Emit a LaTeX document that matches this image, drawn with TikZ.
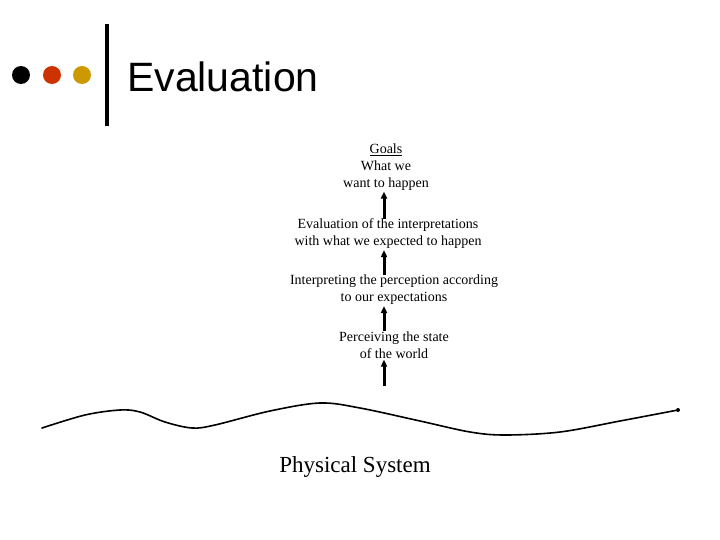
\documentclass[tikz,border=0pt]{standalone}
\usepackage{fontspec}
\setmainfont{Liberation Serif}
\newfontfamily\titlefont{Liberation Sans}
\usetikzlibrary{arrows.meta}
\definecolor{dotred}{HTML}{CC3300}
\definecolor{dotgold}{HTML}{CC9900}
\begin{document}
\begin{tikzpicture}[x=1pt,y=-1pt,
  lbl/.style={align=center,inner sep=1pt,font=\fontsize{14}{17}\selectfont},
  arr/.style={line width=3pt,-{Triangle[length=7pt,width=6pt]}}]
\useasboundingbox (0,0) rectangle (720,540);
% header
\fill[black] (21,75) circle (9);
\fill[dotred] (52,75) circle (9);
\fill[dotgold] (82,75) circle (9);
\draw[line width=4pt] (107,24) -- (107,126);
\node[anchor=base west,inner sep=0,font=\titlefont\fontsize{41}{46}\selectfont] (title) at (127,92) {Evaluation};
% stages
\node[lbl] (goals) at (386,167) {\underline{Goals}\\What we\\want to happen};
\node[lbl] (evalu) at (388,234) {Evaluation of the interpretations\\with what we expected to happen};
\node[lbl] (interp) at (394,290) {Interpreting the perception according\\to our expectations};
\node[lbl] (perc) at (394,345) {Perceiving the state\\of the world};
\coordinate (ax) at (384,0);
\coordinate (base) at (384,386);
\draw[arr] (evalu.north -| ax) ++(0,1) -- (goals.south -| ax);
\draw[arr] (interp.north -| ax) ++(0,1) -- (evalu.south -| ax);
\draw[arr] (perc.north -| ax) ++(0,1) -- (interp.south -| ax);
\draw[arr] (base) -- (perc.south -| ax);
% physical system
\draw[line width=1.6pt,line cap=round] plot[smooth,tension=0.55] coordinates
 {(42,428) (85,415) (120,410) (140,412) (165,422) (192,428) (215,425) (270,411) (320,403) (360,408) (420,421) (470,432) (505,435) (560,432) (620,421) (678,410)};
\fill (678,410) circle (2);
\node[inner sep=0,font=\fontsize{23}{26}\selectfont] (phys) at (355,467) {Physical System};
\end{tikzpicture}
\end{document}
